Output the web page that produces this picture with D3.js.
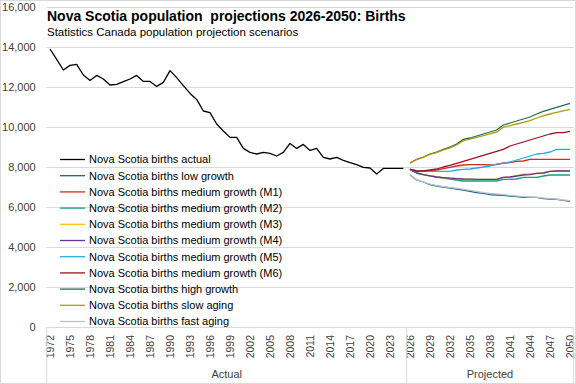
<!DOCTYPE html>
<html>
<head>
<meta charset="utf-8">
<script src="https://cdn.jsdelivr.net/npm/d3@7"></script>
<style>
  body { margin: 0; background: #fff; }
  svg { display: block; font-family: "Liberation Sans", Arial, sans-serif; }
</style>
</head>
<body>
<svg id="chart"></svg>
<script>
// *** Data ***
var years = [1972, 1973, 1974, 1975, 1976, 1977, 1978, 1979, 1980, 1981, 1982, 1983, 1984, 1985, 1986, 1987, 1988, 1989,
    1990, 1991, 1992, 1993, 1994, 1995, 1996, 1997, 1998, 1999, 2000, 2001, 2002, 2003, 2004, 2005, 2006, 2007, 2008, 2009,
    2010, 2011, 2012, 2013, 2014, 2015, 2016, 2017, 2018, 2019, 2020, 2021, 2022, 2023, 2024, 2025,
    2026, 2027, 2028, 2029, 2030, 2031, 2032, 2033, 2034, 2035, 2036, 2037, 2038, 2039, 2040, 2041, 2042, 2043, 2044,
    2045, 2046, 2047, 2048, 2049, 2050];
var actualYears = years.slice(0, 54);
var projYears = years.slice(54);
var tickYears = [1972, 1975, 1978, 1981, 1984, 1987, 1990, 1993, 1996, 1999, 2002, 2005, 2008, 2011, 2014, 2017, 2020,
    2023, 2026, 2029, 2032, 2035, 2038, 2041, 2044, 2047, 2050];
var yTicks = [0, 2000, 4000, 6000, 8000, 10000, 12000, 14000, 16000];

var actual = [13900, 13380, 12850, 13080, 13130, 12600, 12330, 12580, 12400, 12100, 12130, 12270, 12400, 12580, 12280,
    12280, 12030, 12230, 12820, 12470, 12070, 11680, 11380, 10800, 10720, 10150, 9800, 9480, 9480, 8930, 8730, 8650,
    8730, 8680, 8550, 8730, 9180, 8930, 9130, 8830, 8930, 8480, 8400, 8480, 8330, 8220, 8120, 7980, 7950, 7650, 7930,
    7930, 7930, 7930];
var lowGrowth = [7600, 7350, 7250, 7120, 7050, 7000, 6950, 6900, 6850, 6780, 6720, 6680, 6620, 6600, 6580, 6550, 6520,
    6480, 6480, 6480, 6420, 6400, 6380, 6330, 6280];
var m1 = [7880, 7800, 7780, 7800, 7850, 7920, 7980, 8050, 8100, 8120, 8120, 8120, 8100, 8120, 8200, 8220, 8280, 8300,
    8380, 8380, 8380, 8380, 8380, 8380, 8380];
var m2 = [7880, 7700, 7620, 7560, 7500, 7450, 7400, 7350, 7300, 7300, 7300, 7300, 7300, 7300, 7380, 7380, 7400, 7480,
    7480, 7480, 7550, 7600, 7600, 7600, 7600];
var m3 = [7880, 7700, 7620, 7560, 7500, 7470, 7460, 7420, 7400, 7390, 7380, 7380, 7380, 7380, 7480, 7500, 7550, 7650,
    7650, 7680, 7700, 7780, 7800, 7800, 7800];
var m4 = [7880, 7700, 7620, 7560, 7500, 7470, 7440, 7420, 7400, 7390, 7380, 7380, 7380, 7380, 7480, 7500, 7550, 7600,
    7620, 7680, 7700, 7780, 7800, 7800, 7800];
var m5 = [7880, 7820, 7800, 7780, 7780, 7780, 7780, 7850, 7880, 7900, 7950, 8000, 8050, 8150, 8180, 8250, 8350, 8450,
    8550, 8650, 8680, 8750, 8880, 8880, 8880];
var m6 = [7880, 7800, 7800, 7850, 7900, 8000, 8080, 8180, 8280, 8380, 8480, 8580, 8680, 8780, 8880, 9050, 9150, 9250,
    9350, 9450, 9550, 9650, 9720, 9720, 9780];
var highGrowth = [8200, 8380, 8500, 8650, 8750, 8880, 9000, 9150, 9380, 9450, 9550, 9650, 9750, 9850, 10100, 10200,
    10300, 10400, 10500, 10650, 10780, 10880, 10980, 11080, 11180];
var slowAging = [8200, 8370, 8480, 8630, 8720, 8850, 8960, 9100, 9320, 9390, 9480, 9570, 9660, 9750, 9990, 10070, 10150,
    10230, 10320, 10450, 10560, 10650, 10730, 10810, 10880];
var fastAging = [7600, 7370, 7260, 7140, 7070, 7020, 6970, 6930, 6880, 6830, 6780, 6720, 6680, 6650, 6620, 6580, 6550,
    6520, 6500, 6480, 6450, 6420, 6400, 6350, 6320];

var seriesNames = ["Nova Scotia births actual", "Nova Scotia births low growth",
    "Nova Scotia births medium growth (M1)", "Nova Scotia births medium growth (M2)",
    "Nova Scotia births medium growth (M3)", "Nova Scotia births medium growth (M4)",
    "Nova Scotia births medium growth (M5)", "Nova Scotia births medium growth (M6)",
    "Nova Scotia births high growth", "Nova Scotia births slow aging", "Nova Scotia births fast aging"];
var seriesColors = ["#000000", "#1f5f85", "#d42a20", "#14a078", "#f5c400", "#6a3098", "#22aee0", "#a3121c",
    "#23704a", "#b39a10", "#b8c2cc"];

var series = [
    { years: actualYears, values: actual },
    { years: projYears, values: lowGrowth },
    { years: projYears, values: m1 },
    { years: projYears, values: m2 },
    { years: projYears, values: m3 },
    { years: projYears, values: m4 },
    { years: projYears, values: m5 },
    { years: projYears, values: m6 },
    { years: projYears, values: highGrowth },
    { years: projYears, values: slowAging },
    { years: projYears, values: fastAging }
];

// *** Define Our Variables ***
var svgWidth = 576, svgHeight = 384;
var plotLeft = 46.7, plotRight = 573.3, plotTop = 7, plotBottom = 327;

var svg = d3.select('#chart')
    .attr("width", svgWidth)
    .attr("height", svgHeight);

// chart border
svg.append("rect")
    .attr("x", 0.5).attr("y", 0.5)
    .attr("width", svgWidth - 1).attr("height", svgHeight - 1)
    .attr("fill", "#fff")
    .attr("stroke", "#d9d9d9");

// *** Scales ***
var xScale = d3.scaleBand()
    .domain(years)
    .range([plotLeft, plotRight]);

var yScale = d3.scaleLinear()
    .domain([0, 16000])
    .range([plotBottom, plotTop]);

// *** Gridlines + y axis ***
var grid = svg.append("g")
    .attr("transform", "translate(" + plotLeft + ",0)")
    .call(d3.axisLeft(yScale).tickValues(yTicks).tickSize(-(plotRight - plotLeft)).tickFormat(""));
grid.select(".domain").remove();
grid.selectAll("line").attr("stroke", "#d9d9d9");

var yAxis = svg.append("g")
    .attr("transform", "translate(" + plotLeft + ",0)")
    .call(d3.axisLeft(yScale).tickValues(yTicks).tickSize(0).tickPadding(11).tickFormat(d3.format(",")));
yAxis.select(".domain").remove();
yAxis.selectAll("text")
    .attr("fill", "#404040")
    .style("font-size", "11px");

// *** x axis (multi-level category) ***
var xAxis = svg.append("g")
    .attr("transform", "translate(0," + plotBottom + ")")
    .call(d3.axisBottom(xScale).tickValues(tickYears).tickSize(0));
xAxis.select(".domain").attr("stroke", "#d9d9d9");
xAxis.selectAll("text")
    .attr("fill", "#404040")
    .style("font-size", "10.5px")
    .attr("text-anchor", "end")
    .attr("transform", "translate(0,8) rotate(-90)")
    .attr("x", 0)
    .attr("y", 0)
    .attr("dy", "0.35em");

// group separators
var sepX = [plotLeft, xScale(2026), plotRight];
svg.selectAll(".sep")
    .data(sepX)
    .enter()
    .append("line")
    .attr("x1", function (d) { return d; })
    .attr("x2", function (d) { return d; })
    .attr("y1", plotBottom)
    .attr("y2", svgHeight)
    .attr("stroke", "#d9d9d9");

var groups = [
    { label: "Actual", from: 1972, to: 2025 },
    { label: "Projected", from: 2026, to: 2050 }
];
svg.selectAll(".grp")
    .data(groups)
    .enter()
    .append("text")
    .attr("x", function (d) { return (xScale(d.from) + xScale(d.to) + xScale.bandwidth()) / 2; })
    .attr("y", 378)
    .attr("text-anchor", "middle")
    .attr("fill", "#404040")
    .style("font-size", "11px")
    .text(function (d) { return d.label; });

// *** The lines ***
var line = d3.line()
    .x(function (d) { return xScale(d[0]) + xScale.bandwidth() / 2; })
    .y(function (d) { return yScale(d[1]); });

svg.selectAll(".series")
    .data(series)
    .enter()
    .append("path")
    .attr("d", function (s) {
        return line(s.years.map(function (y, i) { return [y, s.values[i]]; }));
    })
    .attr("fill", "none")
    .attr("stroke", function (d, i) { return seriesColors[i]; })
    .attr("stroke-width", 1.3)
    .attr("stroke-linejoin", "round");

// *** Title ***
svg.append("text")
    .attr("x", 47)
    .attr("y", 21)
    .style("font-size", "14px")
    .style("font-weight", "bold")
    .style("font-family", "'Liberation Sans Narrow', 'Liberation Sans', sans-serif")
    .attr("fill", "#000")
    .attr("xml:space", "preserve")
    .text("Nova Scotia population  projections 2026-2050: Births");

svg.append("text")
    .attr("x", 47)
    .attr("y", 36)
    .style("font-size", "11.5px")
    .attr("fill", "#000")
    .text("Statistics Canada population projection scenarios");

// *** Legend ***
var legend = svg.selectAll(".legend")
    .data(seriesNames)
    .enter()
    .append("g")
    .attr("transform", function (d, i) { return "translate(60," + (159.5 + i * 16.2) + ")"; });

legend.append("line")
    .attr("x1", 0).attr("x2", 25)
    .attr("stroke", function (d, i) { return seriesColors[i]; })
    .attr("stroke-width", 1.3);

legend.append("text")
    .attr("x", 29)
    .attr("dy", "0.35em")
    .style("font-size", "11px")
    .attr("fill", "#000")
    .text(function (d) { return d; });
</script>
</body>
</html>
